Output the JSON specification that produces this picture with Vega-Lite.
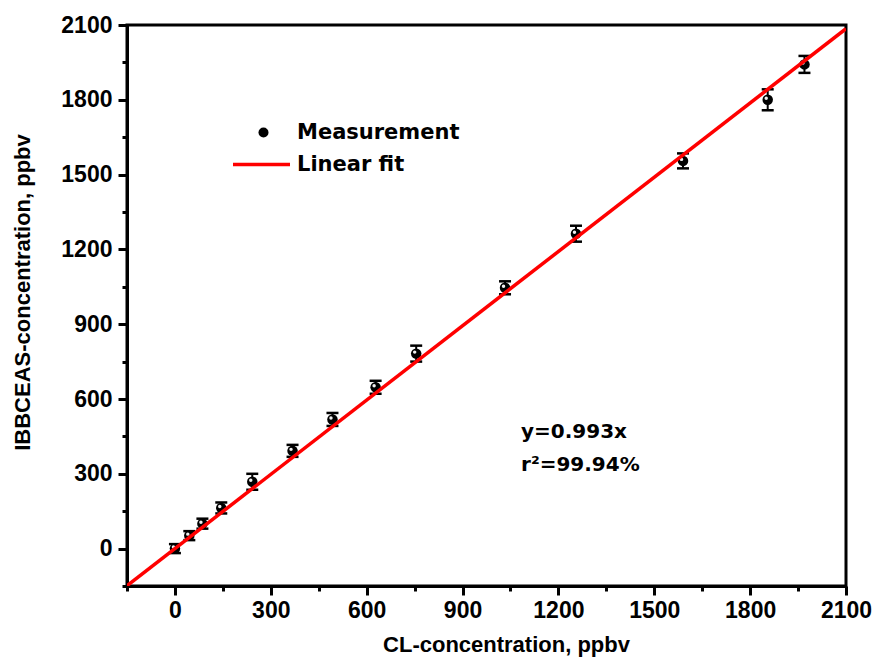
{
  "$schema": "https://vega.github.io/schema/vega-lite/v6.json",
  "width": 719,
  "height": 561,
  "autosize": {"type": "none"},
  "padding": {"left": 127, "top": 25, "right": 28, "bottom": 74},
  "background": "white",
  "config": {
    "view": {"stroke": "black", "strokeWidth": 3},
    "axis": {
      "domainColor": "black",
      "domainWidth": 3,
      "tickColor": "black",
      "tickWidth": 3,
      "grid": false,
      "labelFont": "Liberation Sans",
      "labelFontWeight": "bold",
      "labelFontSize": 23,
      "labelColor": "black",
      "titleFont": "Liberation Sans",
      "titleFontWeight": "bold",
      "titleFontSize": 22,
      "titleColor": "black"
    },
    "legend": {
      "labelFont": "DejaVu Sans",
      "labelFontWeight": "bold",
      "labelFontSize": 21,
      "labelColor": "black",
      "labelLimit": 400,
      "padding": 0
    }
  },
  "datasets": {
    "meas": [
      {"cl": 0, "ib": 0, "err": 18, "m": "Measurement"},
      {"cl": 45, "ib": 52, "err": 18, "m": "Measurement"},
      {"cl": 86, "ib": 100, "err": 20, "m": "Measurement"},
      {"cl": 145, "ib": 163, "err": 22, "m": "Measurement"},
      {"cl": 242, "ib": 268, "err": 32, "m": "Measurement"},
      {"cl": 368, "ib": 392, "err": 24, "m": "Measurement"},
      {"cl": 493, "ib": 518, "err": 26, "m": "Measurement"},
      {"cl": 628, "ib": 647, "err": 26, "m": "Measurement"},
      {"cl": 755, "ib": 782, "err": 32, "m": "Measurement"},
      {"cl": 1033, "ib": 1046, "err": 26, "m": "Measurement"},
      {"cl": 1255, "ib": 1263, "err": 32, "m": "Measurement"},
      {"cl": 1590, "ib": 1555, "err": 30, "m": "Measurement"},
      {"cl": 1855, "ib": 1800, "err": 42, "m": "Measurement"},
      {"cl": 1970, "ib": 1942, "err": 34, "m": "Measurement"}
    ],
    "fit": [
      {"cl": -150, "ib": -148.95, "fit": "Linear fit"},
      {"cl": 2100, "ib": 2085.3, "fit": "Linear fit"}
    ],
    "notes": [
      {"note": "y=0.993x"},
      {"note": "r²=99.94%"}
    ]
  },
  "layer": [
    {
      "encoding": {
        "x": {
          "field": "cl", "type": "quantitative",
          "scale": {"domain": [-150, 2100], "nice": false, "zero": false},
          "axis": {
            "title": "CL-concentration, ppbv",
            "values": [-150, 0, 150, 300, 450, 600, 750, 900, 1050, 1200, 1350, 1500, 1650, 1800, 1950, 2100],
            "labelExpr": "abs(datum.value) % 300 < 1 ? datum.label : ''",
            "tickSize": {"condition": {"test": "abs(datum.value) % 300 < 1", "value": 9}, "value": 5},
            "labelPadding": 4,
            "labelFlush": false,
            "labelOverlap": false,
            "format": "d",
            "titlePadding": 12,
            "titleX": 379
          }
        },
        "y": {
          "field": "ib", "type": "quantitative",
          "scale": {"domain": [-150, 2100], "nice": false, "zero": false},
          "axis": {
            "title": "IBBCEAS-concentration, ppbv",
            "values": [-150, 0, 150, 300, 450, 600, 750, 900, 1050, 1200, 1350, 1500, 1650, 1800, 1950, 2100],
            "labelExpr": "abs(datum.value) % 300 < 1 ? datum.label : ''",
            "tickSize": {"condition": {"test": "abs(datum.value) % 300 < 1", "value": 9}, "value": 5},
            "labelPadding": 6,
            "labelFlush": false,
            "labelOverlap": false,
            "format": "d",
            "titlePadding": 26,
            "titleY": 267
          }
        }
      },
      "layer": [
        {
          "data": {"name": "meas"},
          "mark": {
            "type": "errorbar",
            "color": "black",
            "opacity": 1,
            "rule": {"strokeWidth": 2, "color": "black", "opacity": 1},
            "ticks": {"size": 12, "thickness": 2.5, "color": "black", "opacity": 1}
          },
          "encoding": {
            "yError": {"field": "err"}
          }
        },
        {
          "data": {"name": "meas"},
          "mark": {"type": "point", "filled": true, "size": 110, "opacity": 1, "color": "#000000"},
          "encoding": {
            "shape": {
              "field": "m", "type": "nominal",
              "scale": {"range": ["circle"]},
              "legend": {
                "title": null,
                "orient": "none",
                "legendX": 126,
                "legendY": 97,
                "symbolSize": 100,
                "symbolFillColor": "#000000",
                "symbolStrokeWidth": 0,
                "labelOffset": 23
              }
            }
          }
        },
        {
          "data": {"name": "meas"},
          "mark": {"type": "point", "filled": true, "size": 12, "opacity": 1, "color": "#f0f0f0", "xOffset": -1.5, "yOffset": -1.5}
        },
        {
          "data": {"name": "fit"},
          "mark": {"type": "line", "strokeWidth": 3.5, "clip": true},
          "encoding": {
            "stroke": {
              "field": "fit", "type": "nominal",
              "scale": {"range": ["#ff0000"]},
              "legend": {
                "title": null,
                "orient": "none",
                "legendX": 104,
                "legendY": 109,
                "symbolType": "stroke",
                "symbolSize": 3249,
                "symbolStrokeWidth": 3.5,
                "labelOffset": 5
              }
            }
          }
        }
      ]
    },
    {
      "data": {"name": "notes"},
      "transform": [{"filter": "datum.note === 'y=0.993x'"}],
      "mark": {"type": "text", "align": "left", "baseline": "middle", "font": "DejaVu Sans", "fontWeight": "bold", "fontSize": 20, "color": "black"},
      "encoding": {
        "x": {
          "datum": 1083, "type": "quantitative",
          "axis": {
            "title": "CL-concentration, ppbv",
            "values": [-150, 0, 150, 300, 450, 600, 750, 900, 1050, 1200, 1350, 1500, 1650, 1800, 1950, 2100],
            "labelExpr": "abs(datum.value) % 300 < 1 ? datum.label : ''",
            "tickSize": {"condition": {"test": "abs(datum.value) % 300 < 1", "value": 9}, "value": 5},
            "labelPadding": 4,
            "labelFlush": false,
            "labelOverlap": false,
            "format": "d",
            "titlePadding": 12,
            "titleX": 379
          }
        },
        "y": {
          "datum": 469, "type": "quantitative",
          "axis": {
            "title": "IBBCEAS-concentration, ppbv",
            "values": [-150, 0, 150, 300, 450, 600, 750, 900, 1050, 1200, 1350, 1500, 1650, 1800, 1950, 2100],
            "labelExpr": "abs(datum.value) % 300 < 1 ? datum.label : ''",
            "tickSize": {"condition": {"test": "abs(datum.value) % 300 < 1", "value": 9}, "value": 5},
            "labelPadding": 6,
            "labelFlush": false,
            "labelOverlap": false,
            "format": "d",
            "titlePadding": 26,
            "titleY": 267
          }
        },
        "text": {"field": "note", "type": "nominal"}
      }
    },
    {
      "data": {"name": "notes"},
      "transform": [{"filter": "datum.note !== 'y=0.993x'"}],
      "mark": {"type": "text", "align": "left", "baseline": "middle", "font": "DejaVu Sans", "fontWeight": "bold", "fontSize": 20, "color": "black"},
      "encoding": {
        "x": {
          "datum": 1083, "type": "quantitative",
          "axis": {
            "title": "CL-concentration, ppbv",
            "values": [-150, 0, 150, 300, 450, 600, 750, 900, 1050, 1200, 1350, 1500, 1650, 1800, 1950, 2100],
            "labelExpr": "abs(datum.value) % 300 < 1 ? datum.label : ''",
            "tickSize": {"condition": {"test": "abs(datum.value) % 300 < 1", "value": 9}, "value": 5},
            "labelPadding": 4,
            "labelFlush": false,
            "labelOverlap": false,
            "format": "d",
            "titlePadding": 12,
            "titleX": 379
          }
        },
        "y": {
          "datum": 337, "type": "quantitative",
          "axis": {
            "title": "IBBCEAS-concentration, ppbv",
            "values": [-150, 0, 150, 300, 450, 600, 750, 900, 1050, 1200, 1350, 1500, 1650, 1800, 1950, 2100],
            "labelExpr": "abs(datum.value) % 300 < 1 ? datum.label : ''",
            "tickSize": {"condition": {"test": "abs(datum.value) % 300 < 1", "value": 9}, "value": 5},
            "labelPadding": 6,
            "labelFlush": false,
            "labelOverlap": false,
            "format": "d",
            "titlePadding": 26,
            "titleY": 267
          }
        },
        "text": {"field": "note", "type": "nominal"}
      }
    }
  ]
}
